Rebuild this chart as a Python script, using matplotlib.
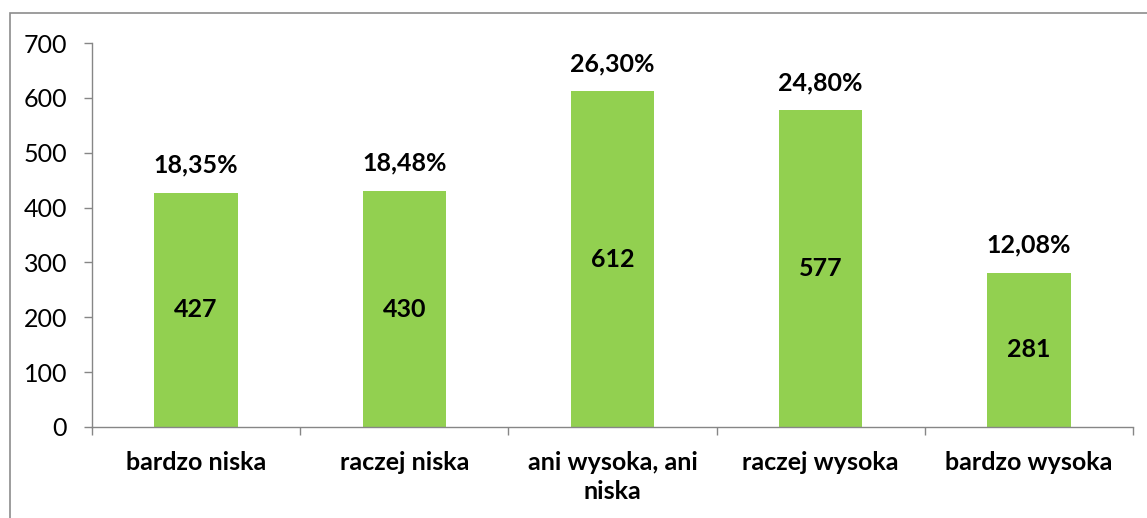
import matplotlib
matplotlib.use("Agg")
import matplotlib.pyplot as plt
from matplotlib.patches import Rectangle

categories = ["bardzo niska", "raczej niska", "ani wysoka, ani\nniska", "raczej wysoka", "bardzo wysoka"]
counts = [427, 430, 612, 577, 281]
shares = ["18,35%", "18,48%", "26,30%", "24,80%", "12,08%"]

plt.rcParams['font.family'] = ['Lato', 'DejaVu Sans']

fig = plt.figure(figsize=(11.47, 5.18), dpi=100)
ax = fig.add_axes([92 / 1147, 1 - 427 / 518, (1133 - 92) / 1147, (427 - 43) / 518])

# outer chart frame (cut off at right and bottom like the reference)
fig.patches.append(Rectangle((9.5 / 1147, -0.1), 1.2, 0.1 + 1 - 13 / 518,
                             transform=fig.transFigure, fill=False,
                             edgecolor='#8c8c8c', linewidth=1.2))

x = range(len(categories))
bars = ax.bar(x, counts, width=0.4, color='#92D050')

for i, (c, s) in enumerate(zip(counts, shares)):
    ax.text(i, c / 2, str(c), ha='center', va='center', fontsize=18,
            fontweight='bold')
    ax.annotate(s, (i, c), xytext=(0, 20), textcoords='offset points',
                ha='center', va='center', fontsize=18, fontweight='bold')

ax.set_xlim(-0.5, len(categories) - 0.5)
ax.set_ylim(0, 700)
ax.set_yticks(range(0, 701, 100))
ax.set_xticks([i + 0.5 for i in range(-1, len(categories))], minor=False)
ax.set_xticklabels([])
ax.set_xticks(list(x), minor=True)
ax.set_xticklabels(categories, minor=True, fontsize=18, fontweight='bold',
                   linespacing=1.35)
ax.tick_params(axis='x', which='minor', length=0, pad=17)
ax.tick_params(axis='x', which='major', length=6, width=1, color='#868686',
               direction='out')
ax.tick_params(axis='y', length=6, width=1, color='#868686', pad=12,
               labelsize=18)

for sp in ['top', 'right']:
    ax.spines[sp].set_visible(False)
for sp in ['left', 'bottom']:
    ax.spines[sp].set_color('#868686')
    ax.spines[sp].set_linewidth(1)

fig.savefig('out.png', dpi=100)
